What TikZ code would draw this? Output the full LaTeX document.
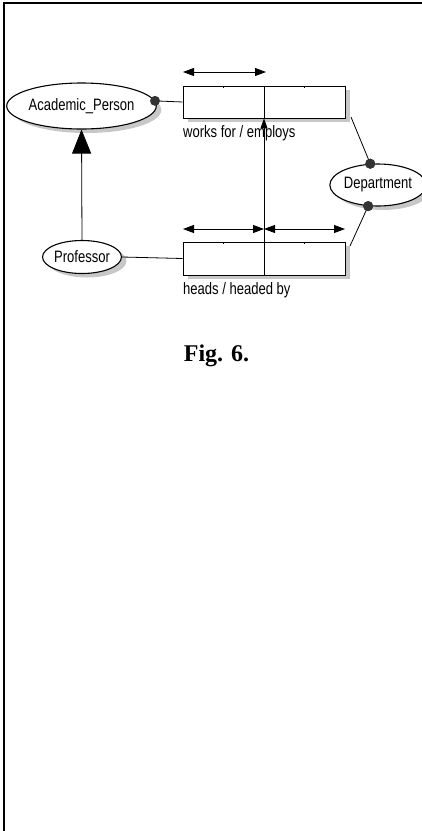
\documentclass[tikz,border=0pt]{standalone}
\usepackage{fontspec}
\setmainfont{Liberation Serif}
\newfontfamily\labfont[FakeStretch=0.79]{Liberation Sans}
\usetikzlibrary{arrows.meta,shapes.geometric,shadows,calc}
\tikzset{
  shade box/.style={drop shadow={shadow xshift=5pt,shadow yshift=-4pt,fill=black!22,opacity=1}},
  entity/.style={ellipse,draw,line width=1.1pt,fill=white,inner sep=0pt,shade box,
    font=\labfont\fontsize{16.5}{18}\selectfont},
  relbox/.style={rectangle,draw,line width=0.9pt,fill=white,inner sep=0pt,
    minimum width=162pt,shade box},
  conn/.style={line width=0.8pt},
  dim/.style={line width=0.8pt,{Triangle[length=11pt,width=8pt]}-{Triangle[length=11pt,width=8pt]}},
  dot/.style={circle,fill=black!80,inner sep=0pt,minimum size=10pt},
  lbl/.style={font=\labfont\fontsize{16.5}{18}\selectfont,inner sep=0pt,anchor=west},
  frame/.style={line width=1.5pt}
}
\begin{document}
\begin{tikzpicture}[x=1pt,y=-1pt]
\useasboundingbox (0,0) rectangle (422,831);
% page frame (top and left edges)
\coordinate (fa) at (4,831);
\coordinate (fb) at (4,3);
\coordinate (fc) at (422,3);
\draw[frame] (fa) -- (fb) -- (fc);

% relationship boxes
\node[relbox,minimum height=32pt] (wf) at (264,102) {};
\node[relbox,minimum height=33pt] (hd) at (264,258.5) {};
\node[lbl] (wfl) at (183,133) {works for / employs};
\node[lbl] (hdl) at (183,290) {heads / headed by};

% entities
\node[entity,minimum width=121pt,minimum height=46pt] (ap) at (81.5,106) {Academic\_Person};
\node[entity,minimum width=68pt,minimum height=33pt] (pr) at (82,257) {Professor};
\node[entity,minimum width=78pt,minimum height=42pt] (dep) at (378,185) {Department};

% quarter ticks on the boxes
\foreach \b in {wf,hd}{
  \draw[conn] ($(\b.north west)!0.25!(\b.north east)$) -- ++(0,2);
  \draw[conn] ($(\b.north west)!0.75!(\b.north east)$) -- ++(0,2);
}

% box dividers and the role link
\draw[conn] (wf.north) -- (wf.south);
\draw[conn,-{Triangle[length=10pt,width=7pt]}] (hd.south) -- (wf.south);

% dimension arrows
\coordinate (wa1) at (183,72);
\coordinate (wa2) at (266,72);
\draw[dim] (wa1) -- (wa2);
\coordinate (ha1) at (183,229);
\coordinate (ha2) at (264,229);
\coordinate (ha3) at (345,229);
\draw[dim] (ha1) -- (ha2);
\draw[dim] (ha2) -- (ha3);

% subtype arrow
\draw[conn,-{Triangle[length=24pt,width=19pt]}] (pr.north) -- (ap.south);

% connectors
\node[dot] (d1) at (ap.4) {};
\draw[conn] (d1) -- (wf.west);
\draw[conn] (pr.east) -- (hd.west);
\coordinate (wfc) at (351,117);
\coordinate (hdc) at (350,246);
\node[dot] (d2) at (dep.110) {};
\node[dot] (d3) at (dep.245) {};
\draw[conn] (d2.center) -- (wfc);
\draw[conn] (d3.center) -- (hdc);
\node[dot] at (dep.110) {};
\node[dot] at (dep.245) {};

% caption
\node[font=\bfseries\fontsize{24}{28}\selectfont,inner sep=0pt,anchor=base] (cap) at (216.5,361) {Fig. 6.};
\end{tikzpicture}
\end{document}
